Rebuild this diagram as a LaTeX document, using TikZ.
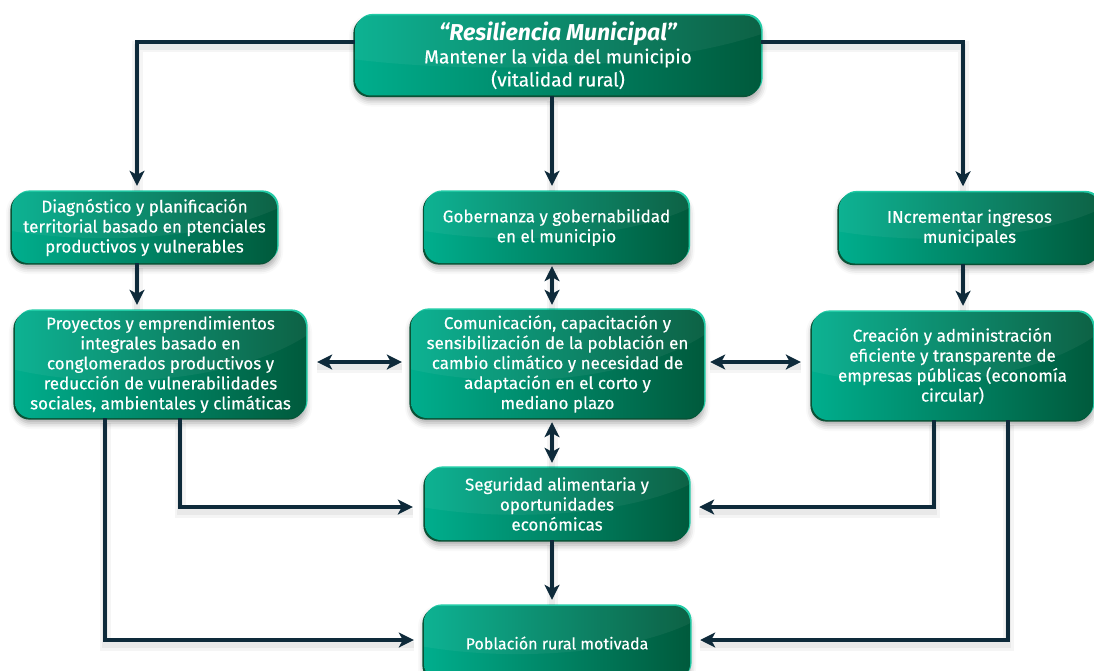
\documentclass[tikz,border=0pt]{standalone}
\usepackage{fontspec}
\setmainfont{Fira Sans}[FakeBold=0.4]
\newfontfamily\titlefont{Fira Sans}[UprightFont=*, BoldFont=* Bold]
\usetikzlibrary{arrows.meta,shadows.blur,calc}
\definecolor{gL}{HTML}{00AE8D}
\definecolor{gR}{HTML}{005A3C}
\definecolor{edgeT}{HTML}{22CBA6}
\definecolor{edgeD}{HTML}{0A5236}
\definecolor{navy}{HTML}{0E2A3A}
\tikzset{
  box/.style={rounded corners=16pt, inner sep=0pt, text=white, align=center,
    font=\fontsize{17}{20}\selectfont,
    blur shadow={shadow xshift=0pt, shadow yshift=-5pt, shadow blur radius=6pt, shadow opacity=35},
    preaction={fill=edgeT, transform canvas={shift={(1.6pt,1.6pt)}}},
    preaction={fill=edgeD, transform canvas={shift={(-1.6pt,-1.6pt)}}},
    left color=gL, right color=gR,
    path picture={\fill[white,fill opacity=.05]
      let \p1=(path picture bounding box.south west),
          \p2=(path picture bounding box.north east),
          \n1={\x2-\x1}, \n2={abs(\y2-\y1)} in
      ($(path picture bounding box.north)+(-0.15*\n1,0.35*\n2)$)
      ellipse [x radius={0.8*\n1}, y radius={1.0*\n2}];}},
  tip/.tip={Stealth[length=15pt,width=15pt,inset=4pt]},
  lshadow/.style={
    preaction={draw=black, draw opacity=.04, line width=11pt, -, transform canvas={yshift=-5pt}},
    preaction={draw=black, draw opacity=.05, line width=6pt, -, transform canvas={yshift=-5pt}}},
  arr/.style={lshadow, draw=navy, line width=3.4pt, -tip, shorten >=6pt},
  darr/.style={lshadow, draw=navy, line width=3.4pt, tip-tip, shorten >=5pt, shorten <=3pt}
}
\begin{document}
\begin{tikzpicture}[x=1pt,y=-1pt]
\useasboundingbox (0,0) rectangle (1094,671);
% nodes
\node[box, minimum width=406pt, minimum height=80pt, font=\fontsize{19}{23}\selectfont] (T) at (558,55.5)
  {{\fontsize{23}{26}\selectfont\titlefont\bfseries\itshape “Resiliencia Municipal”}\\Mantener la vida del municipio\\(vitalidad rural)};
\node[box, minimum width=265pt, minimum height=71pt] (D) at (144.5,227.5)
  {Diagnóstico y planificación\\territorial basado en ptenciales\\productivos y vulnerables};
\node[box, minimum width=264pt, minimum height=71pt] (G) at (556.5,227.5)
  {Gobernanza y gobernabilidad\\en el municipio};
\node[box, minimum width=261pt, minimum height=71pt] (I) at (969.5,228)
  {INcrementar ingresos\\municipales};
\node[box, minimum width=291pt, minimum height=107pt] (P) at (160.5,364.5)
  {Proyectos y emprendimientos\\integrales basado en\\conglomerados productivos y\\reducción de vulnerabilidades\\sociales, ambientales y climáticas};
\node[box, minimum width=293pt, minimum height=108pt] (C) at (557.5,364)
  {Comunicación, capacitación y\\sensibilización de la población en\\cambio climático y necesidad de\\adaptación en el corto y\\mediano plazo};
\node[box, minimum width=281pt, minimum height=108pt] (Cr) at (952.5,366)
  {Creación y administración\\eficiente y transparente de\\empresas públicas (economía\\circular)};
\node[box, minimum width=264pt, minimum height=72pt] (S) at (557,504)
  {Seguridad alimentaria y\\oportunidades\\económicas};
\node[box, minimum width=266pt, minimum height=74pt, font=\fontsize{16}{20}\selectfont] (Pob) at (557,643)
  {Población rural motivada};
% routing coordinates
\coordinate (cL) at (137,42);
\coordinate (cR) at (963,42);
\coordinate (cM) at (552,0);
\coordinate (row) at (0,362);
\coordinate (a1) at (180,507);
\coordinate (a2) at (934,507);
\coordinate (b1) at (105,640);
\coordinate (b2) at (1008,640);
% connectors
\draw[arr] (T.west |- cL) -- (cL) -- (D.north -| cL);
\draw[arr] (T.south -| cM) -- (G.north -| cM);
\draw[arr] (T.east |- cR) -- (cR) -- (I.north -| cR);
\draw[arr] (D.south -| cL) -- (P.north -| cL);
\draw[darr] (G.south -| cM) -- (C.north -| cM);
\draw[arr] (I.south -| cR) -- (Cr.north -| cR);
\draw[darr, shorten <=11pt, shorten >=9pt] (P.east |- row) -- (C.west |- row);
\draw[darr, shorten <=6pt, shorten >=11pt] (C.east |- row) -- (Cr.west |- row);
\draw[darr, shorten <=4pt, shorten >=5pt] (C.south -| cM) -- (S.north -| cM);
\draw[arr, shorten >=12pt] (P.south -| a1) -- (a1) -- (S.west |- a1);
\draw[arr, shorten >=10pt] (Cr.south -| a2) -- (a2) -- (S.east |- a2);
\draw[arr] (S.south -| cM) -- (Pob.north -| cM);
\draw[arr, shorten >=10pt] (P.south -| b1) -- (b1) -- (Pob.west |- b1);
\draw[arr, shorten >=10pt] (Cr.south -| b2) -- (b2) -- (Pob.east |- b2);
\end{tikzpicture}
\end{document}
